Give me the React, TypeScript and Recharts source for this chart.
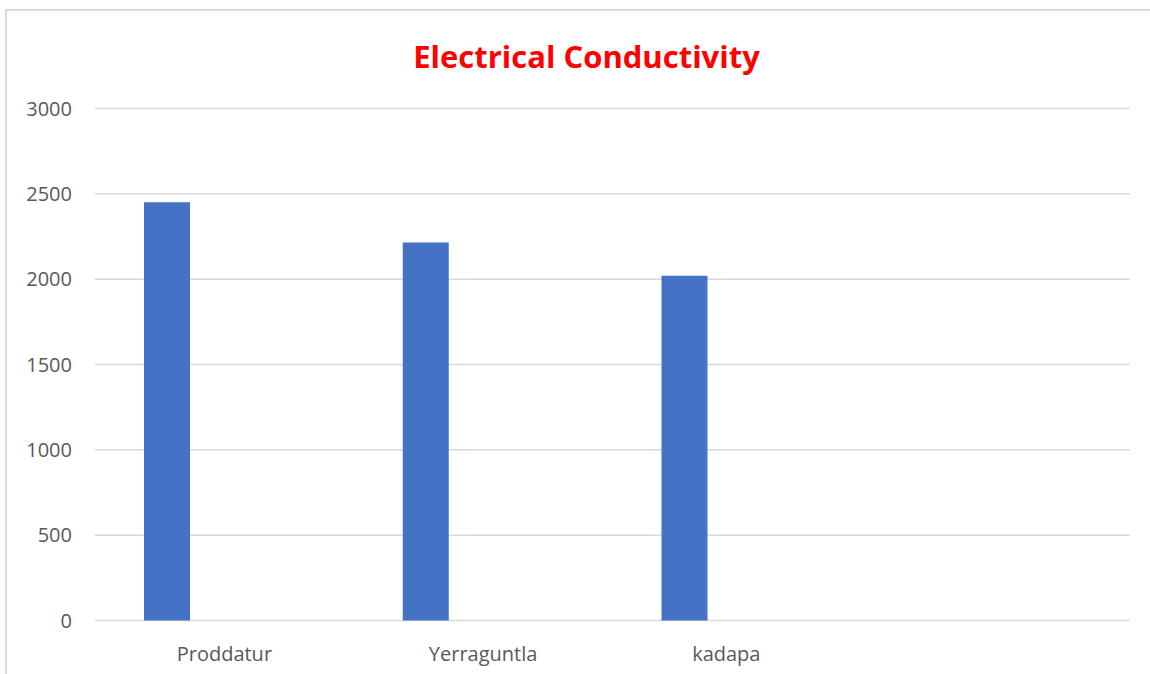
import { Bar, BarChart, CartesianGrid, XAxis, YAxis } from "recharts";

// the source label for kadapa carries trailing blanks, which is why it sits left of centre
const sites = ["Proddatur", "Yerraguntla", "kadapa      ", ""];
const conductivity = [2450, 2215, 2020, null];
const secondSeries = [null, null, null, null];
const yTicks = [0, 500, 1000, 1500, 2000, 2500, 3000];

const data = sites.map((site, i) => ({
  site,
  ec: conductivity[i],
  other: secondSeries[i],
}));

const FONT = "'Open Sans', sans-serif";

function SiteTick(props: any) {
  const { x, y, payload } = props;
  return (
    <text
      x={x}
      y={y}
      dy="0.71em"
      textAnchor="middle"
      fontSize={20}
      fill="#595959"
      fontFamily={FONT}
      style={{ whiteSpace: "pre" }}
    >
      {payload.value}
    </text>
  );
}

export default function App() {
  return (
    <div
      style={{
        position: "absolute",
        left: 0,
        top: 0,
        width: 1150,
        height: 674,
        overflow: "hidden",
        background: "#fff",
        fontFamily: FONT,
      }}
    >
      {/* frame of the chart area, right/bottom edges run off the page */}
      <div
        style={{
          position: "absolute",
          left: 5,
          top: 9,
          width: 1170,
          height: 700,
          border: "2px solid #d9d9d9",
          boxSizing: "border-box",
        }}
      />
      <div
        style={{
          position: "absolute",
          left: 0,
          top: 38,
          width: 1173,
          textAlign: "center",
          color: "#ff0000",
          fontWeight: 700,
          fontSize: 31,
          lineHeight: "36px",
        }}
      >
        Electrical Conductivity
      </div>
      <div style={{ position: "absolute", left: 0, top: 0 }}>
        <BarChart
          width={1150}
          height={674}
          data={data}
          margin={{ top: 108.5, right: 20, left: 0, bottom: 0 }}
          barSize={46}
          barGap={69}
        >
          <CartesianGrid vertical={false} stroke="#d9d9d9" strokeWidth={1.5} />
          <XAxis
            dataKey="site"
            height={53.5}
            axisLine={false}
            tickLine={false}
            tickMargin={20}
            tick={<SiteTick />}
            interval={0}
          />
          <YAxis
            width={95}
            domain={[0, 3000]}
            ticks={yTicks}
            axisLine={false}
            tickLine={false}
            tickMargin={17}
            tick={{ fontSize: 20, fill: "#595959", fontFamily: FONT }}
          />
          <Bar dataKey="ec" fill="#4472c4" isAnimationActive={false} />
          <Bar dataKey="other" fill="#ed7d31" isAnimationActive={false} />
        </BarChart>
      </div>
    </div>
  );
}
